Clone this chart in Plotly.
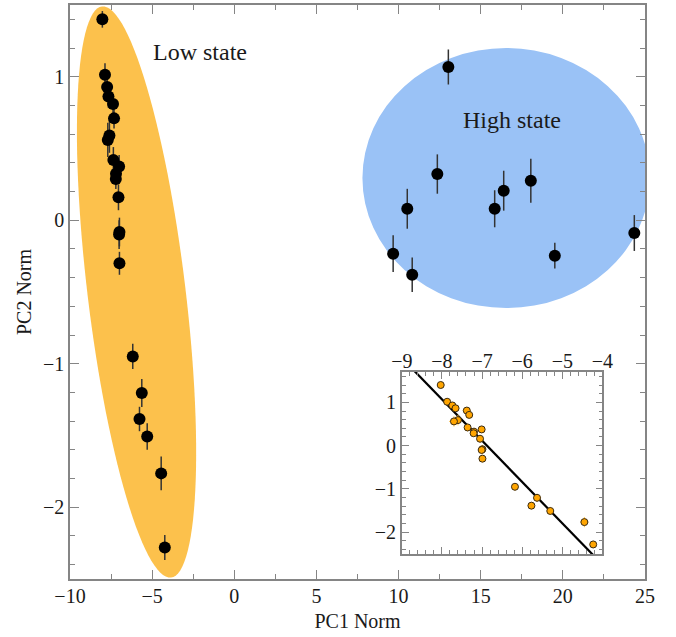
import numpy as np
import plotly.graph_objects as go

# ---------------- data ----------------
low_x = [-8.03, -7.87, -7.74, -7.66, -7.38, -7.32, -7.60, -7.70, -7.36, -7.01, -7.20,
         -7.21, -7.05, -6.99, -7.01, -6.99, -6.18, -5.63, -5.77, -5.30, -4.45, -4.23]
low_y = [1.40, 1.014, 0.928, 0.863, 0.81, 0.71, 0.59, 0.56, 0.42, 0.375, 0.324,
         0.287, 0.16, -0.082, -0.10, -0.30, -0.949, -1.204, -1.385, -1.507, -1.764, -2.28]
low_ey = [0.058, 0.08, 0.06, 0.08, 0.07, 0.07, 0.12, 0.12, 0.09, 0.08, 0.08,
          0.07, 0.09, 0.10, 0.10, 0.08, 0.088, 0.098, 0.085, 0.093, 0.118, 0.087]
low_ex = [0.03, 0.03, 0.03, 0.03, 0.10, 0.03, 0.04, 0.12, 0.04, 0.03, 0.05,
          0.03, 0.03, 0.03, 0.06, 0.03, 0.04, 0.10, 0.03, 0.06, 0.10, 0.03]

high_x = [13.03, 12.36, 10.53, 9.67, 10.83, 15.85, 16.40, 18.05, 19.51, 24.35]
high_y = [1.068, 0.322, 0.08, -0.233, -0.38, 0.08, 0.206, 0.275, -0.247, -0.089]
high_ey = [0.122, 0.137, 0.139, 0.128, 0.12, 0.129, 0.139, 0.153, 0.09, 0.125]

# linear fit shown in the inset: y = slope * x + intercept
fit_slope = -0.954
fit_intercept = -6.562
fit_xrange = [-9.0, -4.0]

# region ellipses (data units)
low_center = (-5.95, -0.50)
low_major = (2.10, -1.99)   # semi-major axis vector
low_minor = (2.96, 0.04)    # semi-minor axis vector
high_center = (16.55, 0.294)
high_semi = (8.75, 0.906)

labels = ["Low state", "High state"]
label_pos = [(-2.07, 1.174), (16.93, 0.70)]

main_xticks = [-10, -5, 0, 5, 10, 15, 20, 25]
main_yticks = [-2, -1, 0, 1]
inset_xticks = [-9, -8, -7, -6, -5, -4]
inset_yticks = [-2, -1, 0, 1]

# ---------------- styles ----------------
FONT = "Liberation Serif, Times New Roman, serif"
ORANGE = "#FCC14C"
BLUE = "#9AC2F6"
AXC = "#858585"
TXT = "#1a1a1a"

fig = go.Figure()

fig.add_trace(go.Scatter(
    x=low_x, y=low_y, mode="markers",
    error_y=dict(type="data", array=low_ey, color="#333333", thickness=1.5, width=0),
    marker=dict(color="black", size=12), showlegend=False))
fig.add_trace(go.Scatter(
    x=high_x, y=high_y, mode="markers",
    error_y=dict(type="data", array=high_ey, color="#333333", thickness=1.5, width=0),
    marker=dict(color="black", size=12), showlegend=False))

# inset
fx = np.array(fit_xrange)
fig.add_trace(go.Scatter(
    x=fx, y=fit_slope * fx + fit_intercept, mode="lines",
    line=dict(color="black", width=2.2), xaxis="x2", yaxis="y2", showlegend=False))
fig.add_trace(go.Scatter(
    x=low_x, y=low_y, mode="markers", xaxis="x2", yaxis="y2",
    error_y=dict(type="data", array=low_ey, color="#FFC34D", thickness=1, width=0),
    error_x=dict(type="data", array=low_ex, color="#FFC34D", thickness=1, width=0),
    marker=dict(color="#FFA500", size=7, line=dict(color="#3a2a10", width=1)),
    showlegend=False))

# ellipses
t = np.linspace(0, 2 * np.pi, 121)
ex = low_center[0] + low_major[0] * np.cos(t) + low_minor[0] * np.sin(t)
ey = low_center[1] + low_major[1] * np.cos(t) + low_minor[1] * np.sin(t)
path = "M " + " L ".join(f"{a:.4f},{b:.4f}" for a, b in zip(ex, ey)) + " Z"
fig.add_shape(type="path", path=path, xref="x", yref="y",
              fillcolor=ORANGE, line=dict(width=0), layer="below")
fig.add_shape(type="circle", xref="x", yref="y",
              x0=high_center[0] - high_semi[0], x1=high_center[0] + high_semi[0],
              y0=high_center[1] - high_semi[1], y1=high_center[1] + high_semi[1],
              fillcolor=BLUE, line=dict(width=0), layer="below")

for txt, (px, py) in zip(labels, label_pos):
    fig.add_annotation(x=px, y=py, xref="x", yref="y", text=txt, showarrow=False,
                       font=dict(family=FONT, size=24, color=TXT))

axis_common = dict(showline=True, linecolor=AXC, linewidth=1.5, mirror="allticks",
                   ticks="inside", tickcolor=AXC, tickwidth=1.2, showgrid=False,
                   zeroline=False, tickfont=dict(family=FONT, size=20, color=TXT))

fig.update_layout(
    width=676, height=637,
    margin=dict(l=70, r=31, t=5, b=58),
    paper_bgcolor="white", plot_bgcolor="rgba(0,0,0,0)",
    xaxis=dict(range=[-10, 25], tickvals=main_xticks, ticklen=9,
               minor=dict(dtick=2.5, tick0=0, ticklen=5, ticks="inside", tickcolor=AXC, tickwidth=1.2),
               title=dict(text="PC1 Norm", font=dict(family=FONT, size=20, color=TXT), standoff=8),
               ticklabelstandoff=-2,
               **axis_common),
    yaxis=dict(range=[-2.5, 1.5], tickvals=main_yticks, ticklen=9,
               minor=dict(dtick=0.2, tick0=0, ticklen=5, ticks="inside", tickcolor=AXC, tickwidth=1.2),
               title=dict(text="PC2 Norm", font=dict(family=FONT, size=20, color=TXT), standoff=6),
               **axis_common),
    xaxis2=dict(domain=[0.577, 0.926], anchor="y2", side="top", range=[-9, -4],
                tickvals=inset_xticks, ticklen=7, ticklabelstandoff=-6,
                minor=dict(dtick=0.2, tick0=0, ticklen=4, ticks="inside", tickcolor=AXC, tickwidth=1),
                **axis_common),
    yaxis2=dict(domain=[0.0436, 0.3606], anchor="x2", range=[-2.5, 1.7],
                tickvals=inset_yticks, ticklen=7,
                minor=dict(dtick=0.2, tick0=0, ticklen=4, ticks="inside", tickcolor=AXC, tickwidth=1),
                **axis_common),
)
fig.update_xaxes(automargin=False)
fig.update_yaxes(automargin=False)

fig.write_html("out.html")
